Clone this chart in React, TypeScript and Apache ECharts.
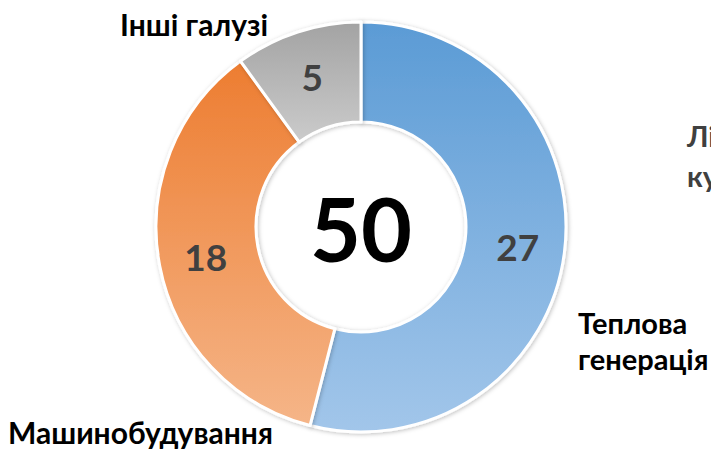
import React, { useEffect, useRef } from "react";
import * as echarts from "echarts";

const categories = ["Теплова генерація", "Машинобудування", "Інші галузі"];
const values = [27, 18, 5];
const total = "50";
const gradients = [
  ["#5b9bd5", "#a2c6ea"],
  ["#ed7d31", "#f5b588"],
  ["#a3a3a3", "#cbcbcb"],
];

export default function App() {
  const ref = useRef<HTMLDivElement>(null);
  useEffect(() => {
    if (!ref.current) return;
    const chart = echarts.init(ref.current, null, { renderer: "svg" });
    const font = "Lato, 'Open Sans', sans-serif";
    chart.setOption({
      animation: false,
      backgroundColor: "#ffffff",
      series: [
        {
          type: "pie",
          center: [361, 227],
          radius: [105, 205],
          startAngle: 90,
          clockwise: true,
          avoidLabelOverlap: false,
          label: {
            show: true,
            position: "inside",
            formatter: "{c}",
            fontFamily: font,
            fontWeight: "bold",
            fontSize: 37,
            color: "#404040",
          },
          labelLine: { show: false },
          emphasis: { disabled: true },
          data: categories.map((name, i) => ({
            name,
            value: values[i],
            itemStyle: {
              color: new echarts.graphic.LinearGradient(0, 0, 0, 1, [
                { offset: 0, color: gradients[i][0] },
                { offset: 1, color: gradients[i][1] },
              ]),
              borderColor: "#ffffff",
              borderWidth: 3,
              shadowBlur: 4,
              shadowColor: "rgba(0,0,0,0.25)",
              shadowOffsetX: 1,
              shadowOffsetY: 1,
            },
          })),
        },
      ],
      graphic: [
        {
          type: "text",
          x: 361,
          y: 228,
          style: {
            text: total,
            fontFamily: font,
            fontWeight: "bold",
            fontSize: 88,
            fill: "#000000",
            textAlign: "center",
            textVerticalAlign: "middle",
          },
        },
        {
          type: "text",
          x: 578,
          y: 340,
          style: {
            text: "Теплова\nгенерація",
            fontFamily: font,
            fontWeight: "bold",
            fontSize: 29,
            lineHeight: 36,
            fill: "#000000",
            textVerticalAlign: "middle",
          },
        },
        {
          type: "text",
          x: 8,
          y: 432,
          style: {
            text: categories[1],
            fontFamily: font,
            fontWeight: "bold",
            fontSize: 30,
            fill: "#000000",
            textVerticalAlign: "middle",
          },
        },
        {
          type: "text",
          x: 120,
          y: 24,
          style: {
            text: categories[2],
            fontFamily: font,
            fontWeight: "bold",
            fontSize: 30,
            fill: "#000000",
            textVerticalAlign: "middle",
          },
        },
        {
          type: "text",
          x: 687,
          y: 155,
          style: {
            text: "Лі\nку",
            fontFamily: font,
            fontWeight: "bold",
            fontSize: 29,
            lineHeight: 40,
            fill: "#404040",
            textVerticalAlign: "middle",
          },
        },
      ],
    });
    return () => chart.dispose();
  }, []);
  return (
    <div
      ref={ref}
      style={{ position: "fixed", left: 0, top: 0, width: 711, height: 449 }}
    />
  );
}
